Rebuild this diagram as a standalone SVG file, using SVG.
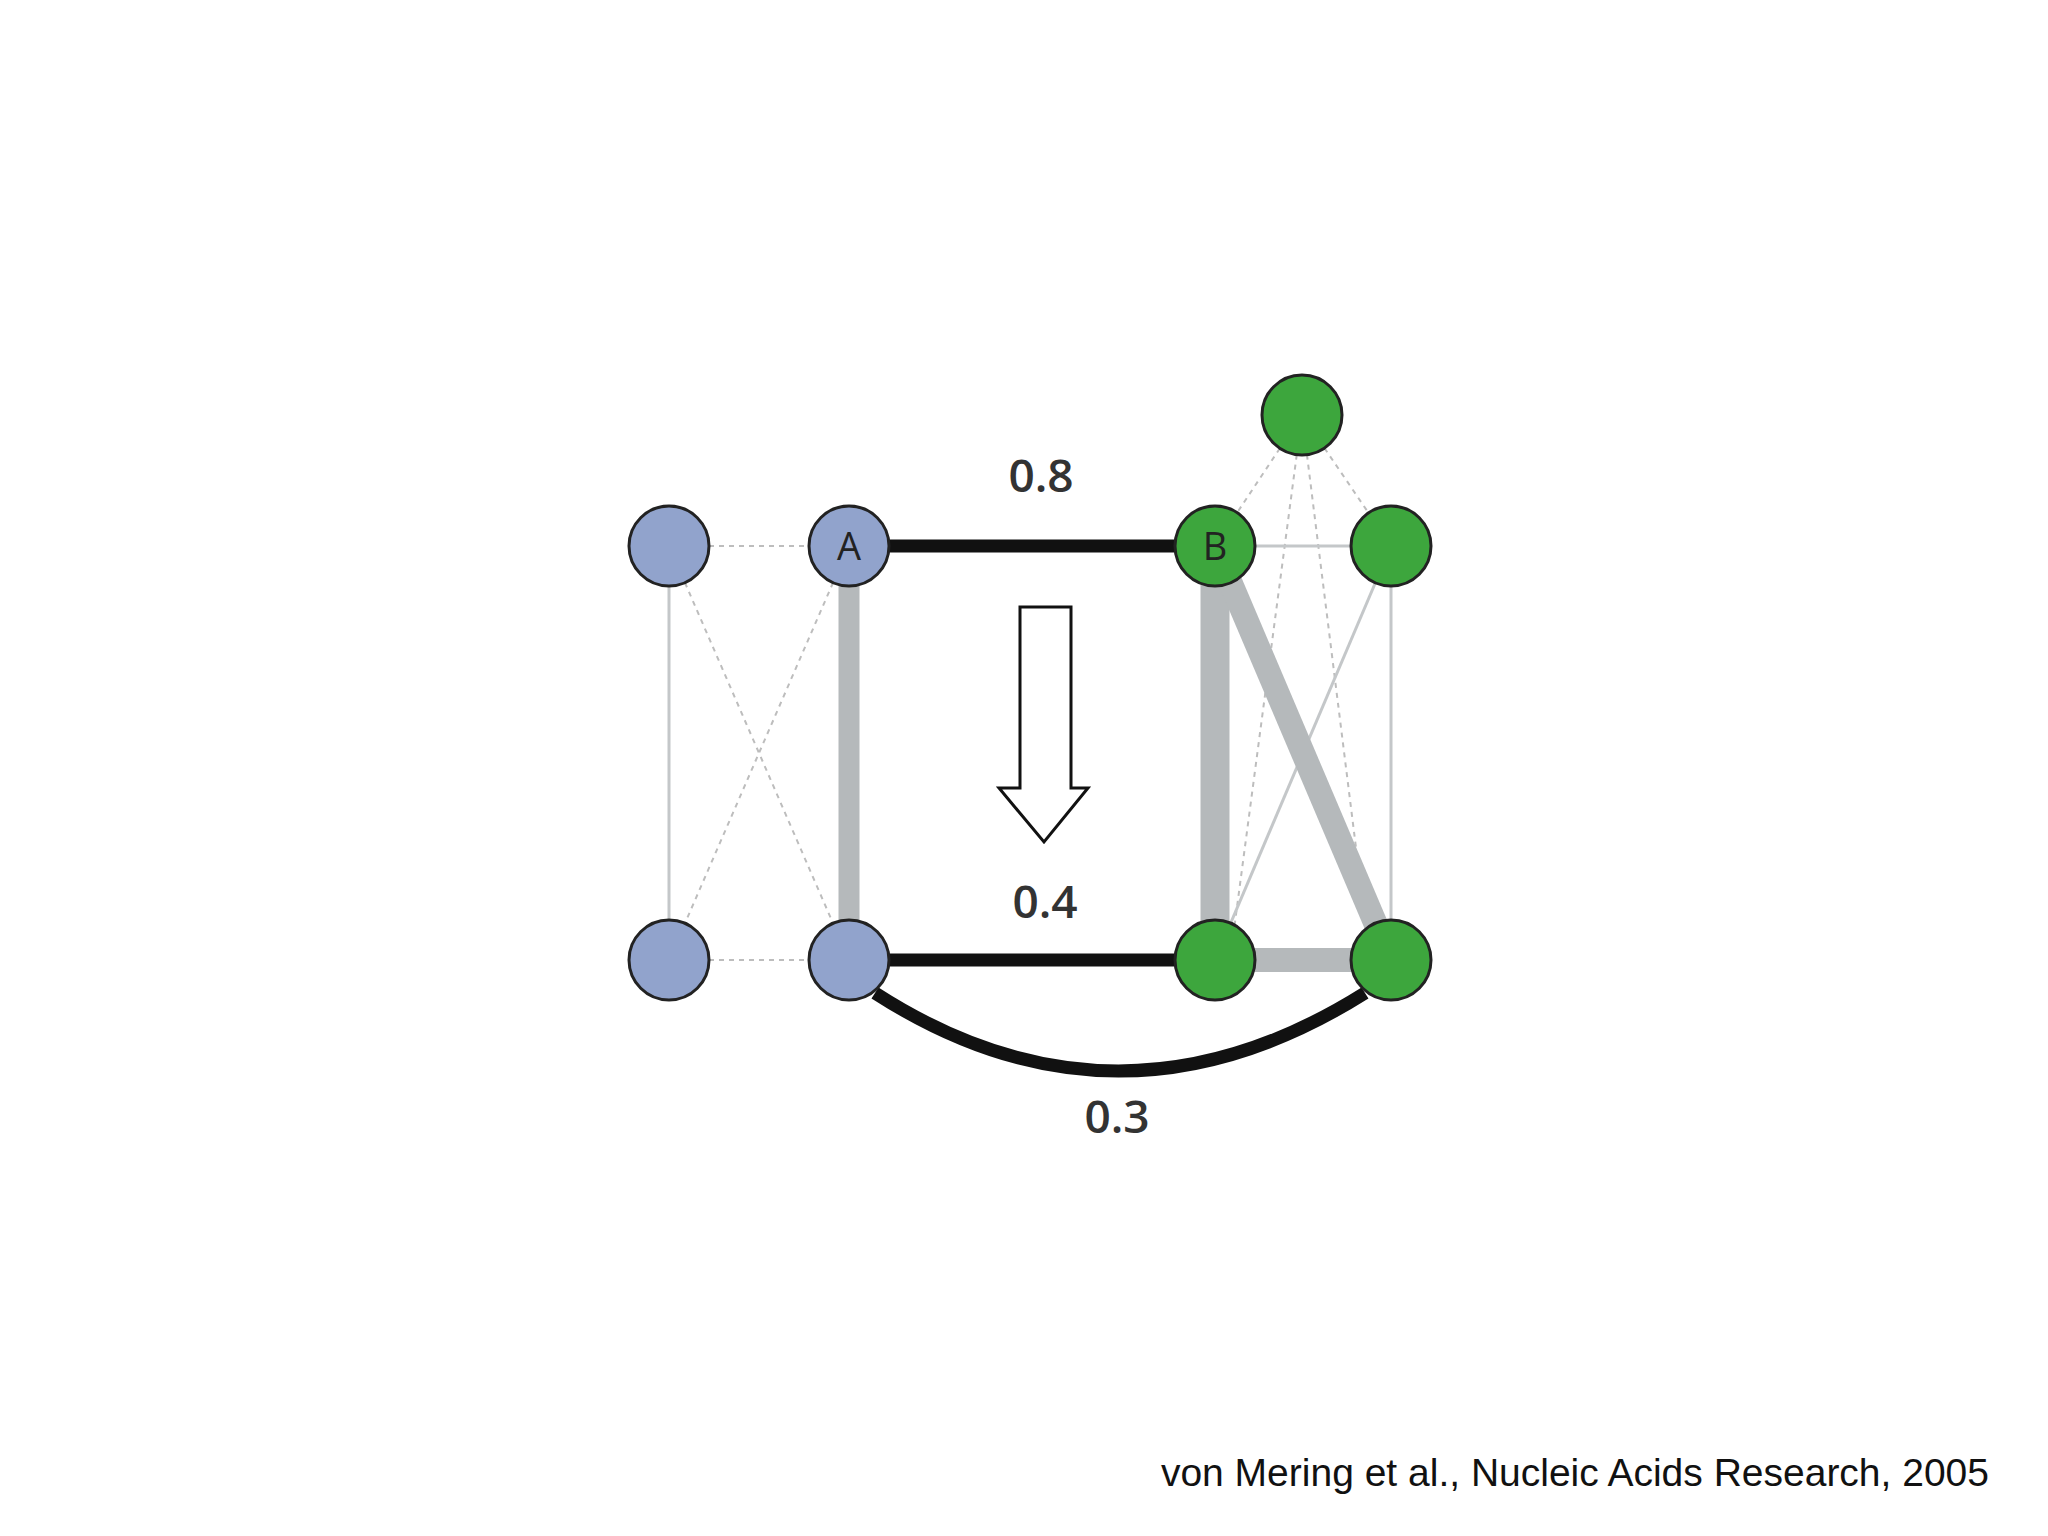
<svg xmlns="http://www.w3.org/2000/svg" width="2048" height="1536" viewBox="0 0 2048 1536">
<style>
.blue{fill:#91a3cc;stroke:#222;stroke-width:3}
.green{fill:#3da63d;stroke:#222;stroke-width:3}
.thin{stroke:#c4c7c9;stroke-width:3;fill:none}
.dash{stroke:#bdbdbd;stroke-width:2;stroke-dasharray:5 5;fill:none}
.gray{stroke:#b5b9bb;fill:none}
.black{stroke:#111;stroke-width:13;fill:none}
.lbl{font-family:"Open Sans","DejaVu Sans",sans-serif;font-size:46px;font-weight:600;fill:#333;text-anchor:middle}
.nl{font-family:"Open Sans","DejaVu Sans",sans-serif;font-size:38px;fill:#222;text-anchor:middle}
</style>
<rect width="2048" height="1536" fill="#fff"/>
<g id="connectors">
<line class="dash" x1="669" y1="546" x2="849" y2="546"/>
<line class="dash" x1="669" y1="960" x2="849" y2="960"/>
<line class="dash" x1="669" y1="546" x2="849" y2="960"/>
<line class="dash" x1="849" y1="546" x2="669" y2="960"/>
<line class="dash" x1="1302" y1="415" x2="1215" y2="546"/>
<line class="dash" x1="1302" y1="415" x2="1391" y2="546"/>
<line class="dash" x1="1302" y1="415" x2="1230" y2="960"/>
<line class="dash" x1="1302" y1="415" x2="1370" y2="960"/>
<line class="dash" x1="1215" y1="546" x2="1391" y2="960"/>
<line class="thin" x1="669" y1="546" x2="669" y2="960"/>
<line class="thin" x1="1215" y1="546" x2="1391" y2="546"/>
<line class="thin" x1="1391" y1="546" x2="1391" y2="960"/>
<line class="thin" x1="1391" y1="546" x2="1215" y2="960"/>
<line class="gray" stroke-width="21" x1="849" y1="546" x2="849" y2="960"/>
<line class="gray" stroke-width="29" x1="1215" y1="546" x2="1215" y2="960"/>
<line class="gray" stroke-width="24" x1="1215" y1="546" x2="1391" y2="960"/>
<line class="gray" stroke-width="24" x1="1215" y1="960" x2="1391" y2="960"/>
<line class="black" x1="849" y1="546" x2="1215" y2="546"/>
<line class="black" x1="849" y1="960" x2="1215" y2="960"/>
<path class="black" d="M875 993 Q1117 1149 1365 993"/>
</g>
<g id="arrow"><path d="M1020 607 H1071 V788 H1088 L1044 842 L999 788 H1020 Z" fill="#fff" stroke="#111" stroke-width="3"/></g>
<g id="n1"><circle class="blue" cx="669" cy="546" r="40"/></g>
<g id="nA"><circle class="blue" cx="849" cy="546" r="40"/><text class="nl" x="849" y="560">A</text></g>
<g id="nB"><circle class="green" cx="1215" cy="546" r="40"/><text class="nl" x="1215" y="560">B</text></g>
<g id="n4"><circle class="green" cx="1391" cy="546" r="40"/></g>
<g id="n5"><circle class="green" cx="1302" cy="415" r="40"/></g>
<g id="n6"><circle class="blue" cx="669" cy="960" r="40"/></g>
<g id="n7"><circle class="blue" cx="849" cy="960" r="40"/></g>
<g id="n8"><circle class="green" cx="1215" cy="960" r="40"/></g>
<g id="n9"><circle class="green" cx="1391" cy="960" r="40"/></g>
<g id="labels">
<text class="lbl" x="1041" y="492">0.8</text>
<text class="lbl" x="1045" y="918">0.4</text>
<text class="lbl" x="1117" y="1133">0.3</text>
<text x="1989" y="1486" font-family="Liberation Sans,Arial,sans-serif" font-size="39" fill="#111" text-anchor="end">von Mering et al., Nucleic Acids Research, 2005</text>
</g>
</svg>
